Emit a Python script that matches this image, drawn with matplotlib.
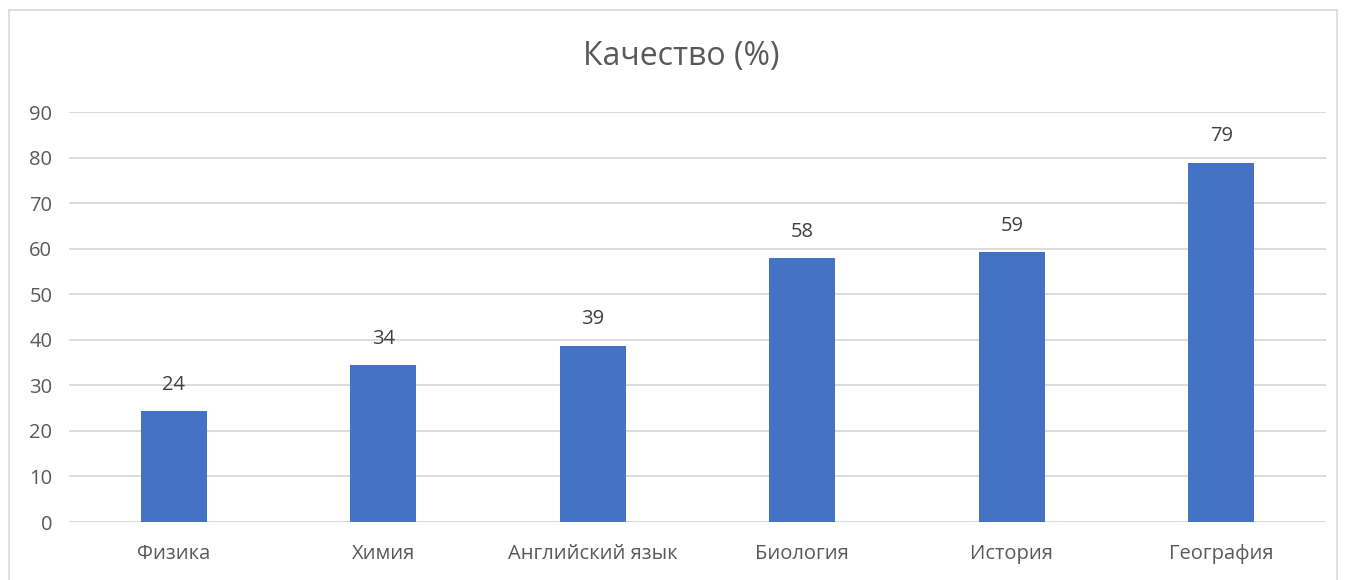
import matplotlib
matplotlib.use('Agg')
import matplotlib.pyplot as plt
from matplotlib.patches import Rectangle

predmety = ['Физика', 'Химия', 'Английский язык', 'Биология', 'История', 'География']
kachestvo = [24.3, 34.4, 38.7, 57.9, 59.2, 78.9]
podpisi = ['24', '34', '39', '58', '59', '79']

plt.rcParams['font.family'] = ['Open Sans', 'DejaVu Sans']

fig = plt.figure(figsize=(13.46, 5.80), dpi=100)
# рамка вокруг диаграммы
fig.patches.append(Rectangle((9 / 1346, -0.01), 1328 / 1346, 1 - 10 / 580 + 0.01,
                             transform=fig.transFigure, fill=False,
                             edgecolor='#d9d9d9', linewidth=1.2))

ax = fig.add_axes([69 / 1346, 58 / 580, 1257 / 1346, 410 / 580])
pos = range(len(predmety))
bars = ax.bar(pos, kachestvo, width=0.315, color='#4472c4', zorder=3)

for b, t in zip(bars, podpisi):
    ax.text(b.get_x() + b.get_width() / 2, b.get_height() + 3.6, t,
            ha='center', va='bottom', fontsize=14.5, color='#404040')

ax.set_xlim(-0.5, len(predmety) - 0.5)
ax.set_ylim(0, 90)
ax.set_yticks(range(0, 91, 10))
ax.set_xticks(list(pos))
ax.set_xticklabels(predmety)
ax.grid(axis='y', color='#d9d9d9', linewidth=1.3, zorder=0)
for s in ax.spines.values():
    s.set_visible(False)
ax.tick_params(length=0, labelsize=14.5, labelcolor='#595959')
ax.tick_params(axis='x', pad=16)
ax.tick_params(axis='y', pad=12)

fig.text(681 / 1346, 1 - 56 / 580, 'Качество (%)', ha='center', va='center',
         fontsize=23, color='#595959')

fig.savefig('out.png', dpi=100)
